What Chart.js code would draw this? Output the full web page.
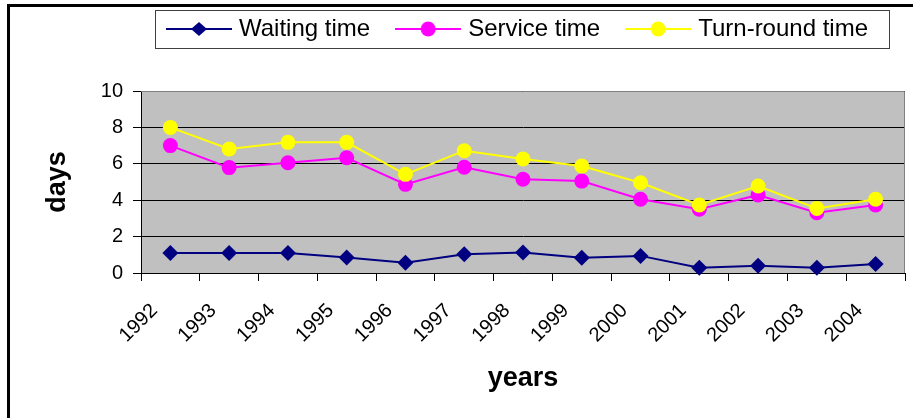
<!DOCTYPE html>
<html>
<head>
<meta charset="utf-8">
<script src="https://cdn.jsdelivr.net/npm/chart.js@4/dist/chart.umd.min.js"></script>
<style>
  html, body { margin: 0; padding: 0; background: #fff; }
  #wrap { position: relative; width: 913px; height: 418px; overflow: hidden; }
  #frame { position: absolute; left: 7px; top: 4px; right: -10px; bottom: -10px;
           border-left: 3px solid #000; border-top: 3px solid #000; }
  canvas { position: absolute; left: 0; top: 0; }
</style>
</head>
<body>
<div id="wrap">
  <div id="frame"></div>
  <canvas id="c" width="913" height="418"></canvas>
</div>
<script>
const years = ['1992','1993','1994','1995','1996','1997','1998','1999','2000','2001','2002','2003','2004'];
const waitingTime = [1.1, 1.1, 1.1, 0.85, 0.57, 1.03, 1.12, 0.84, 0.94, 0.29, 0.4, 0.29, 0.49];
const serviceTime = [7.0, 5.79, 6.06, 6.33, 4.87, 5.81, 5.15, 5.05, 4.05, 3.5, 4.29, 3.31, 3.74];
const turnRoundTime = [8.0, 6.81, 7.18, 7.18, 5.42, 6.72, 6.26, 5.88, 4.96, 3.74, 4.78, 3.55, 4.05];
const yTicks = [0, 2, 4, 6, 8, 10];
const seriesNames = ['Waiting time', 'Service time', 'Turn-round time'];
const seriesColors = ['#000080', '#FF00FF', '#FFFF00'];
const seriesMarkers = ['rectRot', 'circle', 'circle'];
const seriesRadius = [8, 7.5, 7.5];

const FONT = 'Liberation Sans, Arial, sans-serif';

function legendIcon(color, marker) {
  const c = document.createElement('canvas');
  c.width = 66; c.height = 18;
  const g = c.getContext('2d');
  g.strokeStyle = color; g.lineWidth = 2;
  g.beginPath(); g.moveTo(0, 9); g.lineTo(66, 9); g.stroke();
  g.fillStyle = color;
  g.beginPath();
  if (marker === 'rectRot') {
    g.moveTo(33 - 8, 9); g.lineTo(33, 2); g.lineTo(33 + 8, 9); g.lineTo(33, 16); g.closePath();
  } else {
    g.arc(33, 9, 7.5, 0, Math.PI * 2);
  }
  g.fill();
  return c;
}
const legendIcons = seriesColors.map((col, i) => legendIcon(col, seriesMarkers[i]));

const plotBg = {
  id: 'plotBg',
  beforeDraw(chart) {
    const {ctx, chartArea: a} = chart;
    ctx.save();
    ctx.fillStyle = '#C0C0C0';
    ctx.fillRect(a.left, a.top, a.right - a.left, a.bottom - a.top);
    ctx.restore();
  },
  beforeDatasetsDraw(chart) {
    const {ctx, chartArea: a} = chart;
    ctx.save();
    ctx.strokeStyle = '#808080';
    ctx.lineWidth = 1;
    ctx.beginPath();
    ctx.moveTo(a.left, Math.round(a.top) + 0.5);
    ctx.lineTo(Math.round(a.right) - 0.5, Math.round(a.top) + 0.5);
    ctx.lineTo(Math.round(a.right) - 0.5, a.bottom);
    ctx.stroke();
    ctx.restore();
  },
  afterDraw(chart) {
    const hb = chart.legend && chart.legend.legendHitBoxes;
    if (!hb || !hb.length) return;
    const last = hb[hb.length - 1];
    const left = Math.round(hb[0].left - 16) + 0.5;
    const right = Math.round(last.left + last.width + 21) + 0.5;
    const {ctx} = chart;
    ctx.save();
    ctx.strokeStyle = '#404040';
    ctx.lineWidth = 1;
    ctx.strokeRect(left, 10.5, right - left, 38);
    ctx.restore();
  }
};

const datasets = [waitingTime, serviceTime, turnRoundTime].map((vals, i) => ({
  label: seriesNames[i],
  data: vals,
  xAxisID: 'x',
  yAxisID: 'y',
  borderColor: seriesColors[i],
  backgroundColor: seriesColors[i],
  pointBackgroundColor: seriesColors[i],
  pointBorderColor: seriesColors[i],
  pointStyle: seriesMarkers[i],
  pointRadius: seriesRadius[i],
  pointBorderWidth: 0,
  borderWidth: 2,
  tension: 0,
  order: 2 - i,
  clip: false
}));

new Chart(document.getElementById('c'), {
  type: 'line',
  data: { labels: years, datasets },
  plugins: [plotBg],
  options: {
    responsive: false,
    animation: false,
    events: [],
    layout: { padding: { top: -13, left: 0, right: 7, bottom: 0 } },
    plugins: {
      tooltip: { enabled: false },
      legend: {
        display: true,
        position: 'top',
        align: 'start',
        fullSize: false,
        labels: {
          color: '#000',
          font: { family: FONT, size: 24 },
          usePointStyle: true,
          pointStyleWidth: 56,
          padding: 30,
          sort: (a, b) => a.datasetIndex - b.datasetIndex,
          generateLabels(chart) {
            const items = Chart.defaults.plugins.legend.labels.generateLabels(chart);
            items.forEach(it => { it.pointStyle = legendIcons[it.datasetIndex]; it.lineWidth = 0; });
            return items;
          }
        }
      }
    },
    scales: {
      x: {
        type: 'category',
        position: 'bottom',
        offset: true,
        afterFit(s) { s.height = 145; },
        border: { display: true, color: '#000', width: 1 },
        grid: { display: true, offset: true, drawOnChartArea: false, drawTicks: true, tickLength: 8, color: '#000' },
        ticks: {
          autoSkip: false, minRotation: 45, maxRotation: 45,
          labelOffset: -16, padding: 18,
          color: '#000', font: { family: FONT, size: 20 }
        },
        title: {
          display: true, text: 'years', color: '#000',
          font: { family: FONT, size: 27, weight: 'bold' },
          padding: { top: 0, bottom: 23 }
        }
      },
      xTop: {
        type: 'category',
        position: 'top',
        display: true,
        afterFit(s) { s.height = 40; },
        border: { display: false },
        grid: { display: false, drawTicks: false },
        ticks: { display: false }
      },
      y: {
        type: 'linear',
        position: 'left',
        min: 0, max: 10,
        afterFit(s) { s.width = 141; },
        afterBuildTicks(s) { s.ticks = yTicks.map(v => ({ value: v })); },
        border: { display: true, color: '#000', width: 1 },
        grid: { color: '#000', lineWidth: 1, tickLength: 8, drawTicks: true },
        ticks: {
          stepSize: 2, padding: 10, color: '#000',
          font: { family: FONT, size: 20 }
        },
        title: {
          display: true, text: 'days', color: '#000',
          font: { family: FONT, size: 27, weight: 'bold' },
          padding: { top: 41, bottom: 0 }
        }
      }
    }
  }
});
</script>
</body>
</html>
